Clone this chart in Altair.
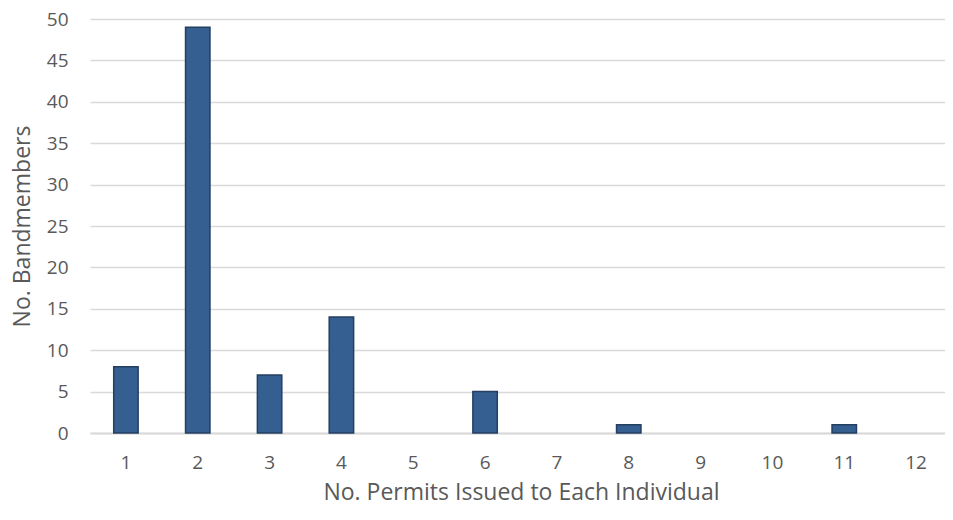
import altair as alt
import pandas as pd

permits = ["1", "2", "3", "4", "5", "6", "7", "8", "9", "10", "11", "12"]
members = [8, 49, 7, 14, 0, 5, 0, 1, 0, 0, 1, 0]

df = pd.DataFrame({"permits": permits, "members": members})

FONT = "Open Sans"
GREY = "#595959"

chart = alt.Chart(df).mark_bar(
    color="#355F91", stroke="#243F60", strokeWidth=1.5
).encode(
    x=alt.X("permits:N", sort=permits,
            scale=alt.Scale(domain=permits, paddingInner=0.66, paddingOuter=0.33),
            axis=alt.Axis(title="No. Permits Issued to Each Individual", labelAngle=0,
                          ticks=False, domainColor="#D9D9D9", domainWidth=2,
                          labelPadding=20, titlePadding=9,
                          labelFontSize=19, titleFontSize=23,
                          labelColor=GREY, titleColor=GREY,
                          labelFont=FONT, titleFont=FONT, titleFontWeight="normal")),
    y=alt.Y("members:Q", scale=alt.Scale(domain=[0, 50]),
            axis=alt.Axis(title="No. Bandmembers", values=list(range(0, 51, 5)),
                          ticks=False, domain=False, gridColor="#D9D9D9", gridWidth=1.5,
                          labelPadding=22, titlePadding=12,
                          labelFontSize=19, titleFontSize=23,
                          labelColor=GREY, titleColor=GREY,
                          labelFont=FONT, titleFont=FONT, titleFontWeight="normal")),
).transform_filter(
    alt.datum.members > 0
).properties(
    width=862, height=414,
    autosize=alt.AutoSizeParams(type="none"),
    padding={"left": 82, "top": 11, "right": -7, "bottom": 79},
).configure_view(stroke=None)

chart.save("out.html", embed_options={"renderer": "svg", "actions": False})
